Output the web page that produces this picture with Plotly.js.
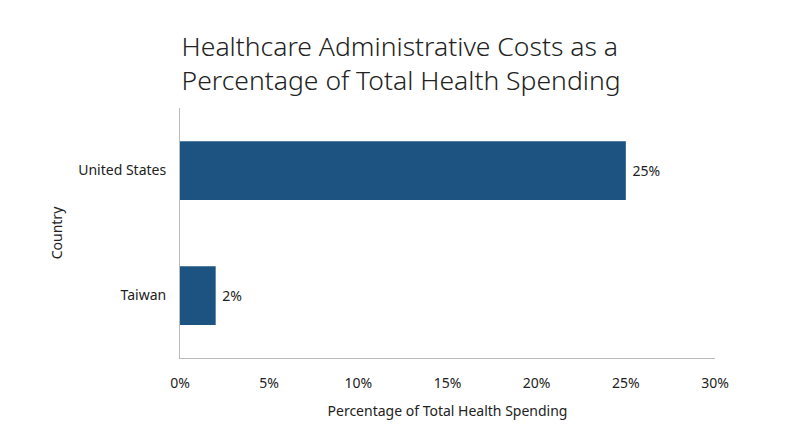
<!DOCTYPE html>
<html>
<head>
<meta charset="utf-8">
<script src="https://cdn.plot.ly/plotly-3.0.1.min.js"></script>
<style>
  html, body { margin: 0; padding: 0; background: #fff; }
  #chart { width: 800px; height: 447px; }
</style>
</head>
<body>
<div id="chart"></div>
<script>
// ── Data ──
const countries = ['Taiwan', 'United States'];
const adminCostPct = [2, 25];
const xTickVals = [0, 5, 10, 15, 20, 25, 30];
const xTickText = ['0%', '5%', '10%', '15%', '20%', '25%', '30%'];

const FONT = '"Source Sans Pro", "Noto Sans", "Open Sans", sans-serif';
const BAR_COLOR = '#1c5381';

Plotly.newPlot('chart', [{
    type: 'bar',
    orientation: 'h',
    y: countries,
    x: adminCostPct,
    text: adminCostPct.map(v => ' ' + v + '%'),
    textposition: 'outside',
    cliponaxis: false,
    textfont: { family: FONT, size: 14, color: '#222' },
    marker: { color: BAR_COLOR },
    hoverinfo: 'skip',
}], {
    width: 800,
    height: 447,
    paper_bgcolor: '#fff',
    plot_bgcolor: '#fff',
    margin: { l: 180, r: 85, t: 108, b: 89 },
    bargap: 0.53,
    showlegend: false,
    font: { family: FONT, size: 14, color: '#222' },
    title: {
        text: 'Healthcare Administrative Costs as a<br>Percentage of Total Health Spending',
        font: { family: FONT, size: 26.5, color: '#222', weight: 300 },
        x: 0.227,
        xanchor: 'left',
        y: 0.875,
        yanchor: 'top',
    },
    xaxis: {
        range: [0, 30],
        tickvals: xTickVals,
        ticktext: xTickText,
        showgrid: false,
        zeroline: false,
        showline: true,
        linecolor: '#bbb',
        linewidth: 1,
        ticks: '',
        ticklabelstandoff: 12,
        tickfont: { size: 14, color: '#222' },
        title: { text: 'Percentage of Total Health Spending', font: { size: 14, color: '#222' }, standoff: 15 },
    },
    yaxis: {
        range: [-0.5, 1.5],
        showgrid: false,
        zeroline: false,
        showline: true,
        linecolor: '#bbb',
        linewidth: 1,
        ticks: '',
        ticklabelstandoff: 10,
        tickfont: { size: 14, color: '#222' },
        title: { text: 'Country', font: { size: 14, color: '#222' }, standoff: 12 },
    },
}, { displayModeBar: false, responsive: false });
</script>
</body>
</html>
